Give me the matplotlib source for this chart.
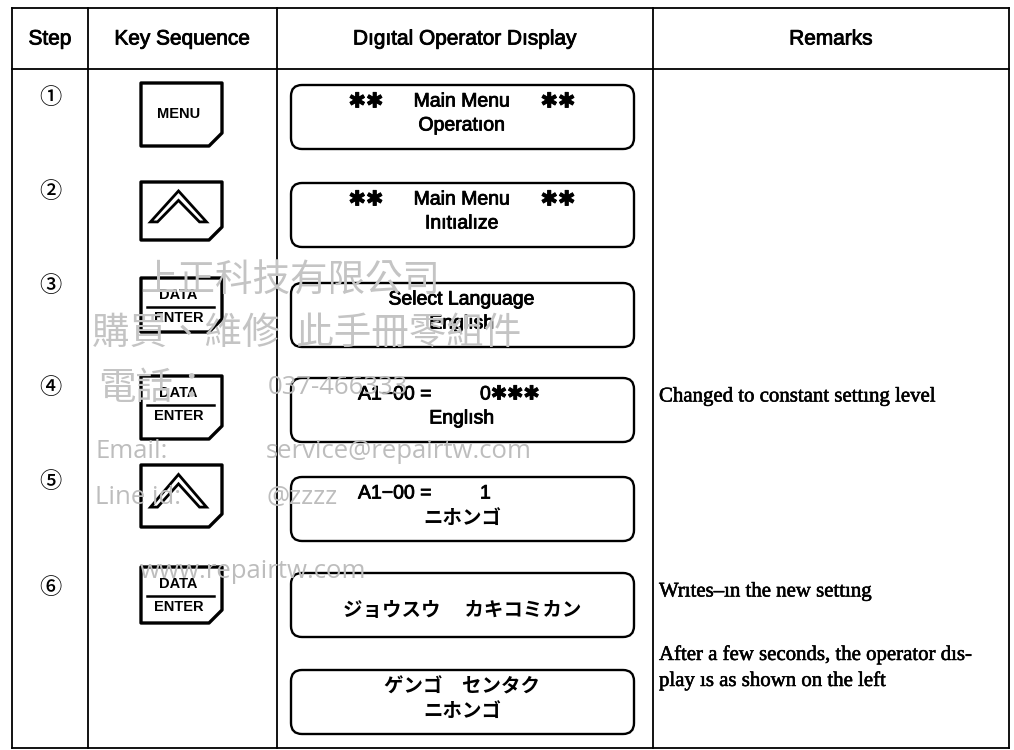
"""Operator procedure table: switching the digital operator display language."""

import matplotlib as mpl

mpl.use("Agg")
import matplotlib.pyplot as plt
import matplotlib.patheffects as pe
from matplotlib.patches import FancyBboxPatch, Polygon

SANS = ["Liberation Sans", "DejaVu Sans"]
SERIF = ["Liberation Serif", "DejaVu Serif"]
JP = ["Noto Sans CJK JP", "DejaVu Sans"]
CJK_TC = ["Noto Sans CJK TC", "DejaVu Sans"]

# --- table content ---
HEADERS = ["Step", "Key Sequence", "Dıgıtal Operator Dısplay", "Remarks"]
STEPS = ["①", "②", "③", "④", "⑤", "⑥"]
KEYS = ["MENU", "UP", "DATA/ENTER", "DATA/ENTER", "UP", "DATA/ENTER"]
# display line 1: tab separated segments (3 = star banner, 2 = parameter line)
DISPLAY_L1 = [
    "✱✱\tMain Menu\t✱✱",
    "✱✱\tMain Menu\t✱✱",
    "Select Language",
    "A1−00 =\t0✱✱✱",
    "A1−00 =\t1",
    "",
    "ゲンゴ　センタク",
]
DISPLAY_L2 = [
    "Operatıon",
    "Inıtıalıze",
    "Englısh",
    "Englısh",
    "ニホンゴ",
    "ジョウスウ　 カキコミカン",
    "ニホンゴ",
]
REMARKS = [
    (4, ["Changed to constant settıng level"]),
    (6, ["Wrıtes–ın the new settıng"]),
    (7, ["After a few seconds, the operator dıs-", "play ıs as shown on the left"]),
]
WATERMARK = [
    ("上正科技有限公司", 140, 281, "cjk"),
    ("購買、維修  此手冊零組件", 92, 333, "cjk"),
    ("電話：", 98, 388, "cjk"),
    ("037-466333", 268, 388, "lat"),
    ("Email:", 95, 452, "lat"),
    ("service@repairtw.com", 266, 452, "lat"),
    ("Line id:", 95, 497, "lat"),
    ("@zzzz", 266, 497, "lat"),
    ("www.repairtw.com", 140, 572, "lat"),
]

# --- layout (pixels) ---
X_COLS = [12, 88, 277, 653, 1009]
Y_TOP, Y_HEAD, Y_BOT = 8, 69, 748
STEP_Y = [97, 192, 286, 388, 482, 588]
KEY_TOP = [83, 182, 278, 376, 465, 567]
KEY_H = [63, 58, 54, 63, 62, 56]
KEY_X0, KEY_X1 = 141, 222
DISP_TOP = [85, 183, 283, 378, 477, 573, 670]
DISP_H = 64
DISP_X0, DISP_X1 = 291, 634
DISP_CX = 462
REM_X = 659

INK = [pe.withStroke(linewidth=0.6, foreground="black")]


def is_kana(s):
    return any("\u3000" <= ch <= "\u30ff" for ch in s)


def disp_text(x, y, s, ha="center", size=14):
    if is_kana(s):
        ax.text(x, y, s, ha=ha, va="center", fontsize=size, family=JP, weight="bold")
    else:
        ax.text(x, y, s, ha=ha, va="center", fontsize=size, family=SANS,
                path_effects=INK)


fig = plt.figure(figsize=(10.14, 7.5), dpi=100)
ax = fig.add_axes([0, 0, 1, 1])
ax.set_xlim(0, 1014)
ax.set_ylim(750, 0)
ax.axis("off")

# grid lines
lw_grid = 1.3
for x in X_COLS:
    ax.plot([x, x], [Y_TOP, Y_BOT], color="black", lw=lw_grid)
for y in (Y_TOP, Y_HEAD, Y_BOT):
    ax.plot([X_COLS[0], X_COLS[-1]], [y, y], color="black", lw=lw_grid)

# header
for i, h in enumerate(HEADERS):
    cx = (X_COLS[i] + X_COLS[i + 1]) / 2
    ax.text(cx, 39, h, ha="center", va="center", fontsize=15, family=SANS,
            path_effects=INK)

# step numbers
for s, y in zip(STEPS, STEP_Y):
    ax.text(50, y, s, ha="center", va="center", fontsize=16, family=JP,
            weight="medium")


def draw_key(kind, top, h):
    c = 13
    x0, x1, y0, y1 = KEY_X0, KEY_X1, top, top + h
    pts = [(x0, y0), (x1, y0), (x1, y1 - c), (x1 - c, y1), (x0, y1)]
    ax.add_patch(Polygon(pts, closed=True, fill=True, facecolor="white",
                         edgecolor="black", lw=2.4, joinstyle="round", zorder=3))
    cx = (x0 + x1) / 2 - 3
    if kind == "MENU":
        ax.text(cx, top + h / 2, "MENU", ha="center", va="center", fontsize=10.5,
                weight="bold", family=SANS, zorder=4)
    elif kind == "DATA/ENTER":
        ax.text(cx, top + 17, "DATA", ha="center", va="center", fontsize=10.5,
                weight="bold", family=SANS, zorder=4)
        ax.plot([x0 + 6, x1 - 8], [top + 29, top + 29], color="black", lw=1.8, zorder=4)
        ax.text(cx, top + 40, "ENTER", ha="center", va="center", fontsize=10.5,
                weight="bold", family=SANS, zorder=4)
    else:
        w, t = 28, 7
        ap = top + h * 0.12 + 2
        bot = top + h * 0.55 + 8
        chev = [(cx, ap), (cx + w, bot), (cx + w - t, bot), (cx, ap + t * 1.35),
                (cx - w + t, bot), (cx - w, bot)]
        ax.add_patch(Polygon(chev, closed=True, facecolor="white", edgecolor="black",
                             lw=2.0, joinstyle="miter", zorder=4))


for k, top, h in zip(KEYS, KEY_TOP, KEY_H):
    draw_key(k, top, h)

# display boxes
for i, top in enumerate(DISP_TOP):
    ax.add_patch(FancyBboxPatch((DISP_X0, top), DISP_X1 - DISP_X0, DISP_H,
                                boxstyle="round,pad=0,rounding_size=11",
                                facecolor="none", edgecolor="black", lw=1.7, zorder=3))
    y1, y2 = top + 17, top + 41
    segs = DISPLAY_L1[i].split("\t") if DISPLAY_L1[i] else []
    if len(segs) == 3:
        disp_text(DISP_CX - 96, y1, segs[0], size=15)
        disp_text(DISP_CX, y1, segs[1])
        disp_text(DISP_CX + 96, y1, segs[2], size=15)
    elif len(segs) == 2:
        disp_text(358, y1, segs[0], ha="left")
        disp_text(480, y1, segs[1], ha="left")
    elif len(segs) == 1:
        disp_text(DISP_CX, y1, segs[0])
    disp_text(DISP_CX, y2 - (4 if i == 5 else 0), DISPLAY_L2[i])

# remarks
for row, lines in REMARKS:
    top = DISP_TOP[row - 1]
    y = top + 19 if len(lines) == 1 else top - 15
    for j, line in enumerate(lines):
        ax.text(REM_X, y + j * 26, line, ha="left", va="center", fontsize=15,
                family=SERIF, path_effects=[pe.withStroke(linewidth=0.4,
                                                          foreground="black")])

# watermark
for text, x, y, kind in WATERMARK:
    if kind == "cjk":
        ax.text(x, y, text, ha="left", va="center", fontsize=27, family=CJK_TC,
                color="#c4c4c4", weight="light", zorder=6)
    else:
        ax.text(x, y, text, ha="left", va="center", fontsize=18.5,
                family=["Open Sans", "DejaVu Sans"], color="#bdbdbd", zorder=6)

fig.savefig("out.png", dpi=100)
